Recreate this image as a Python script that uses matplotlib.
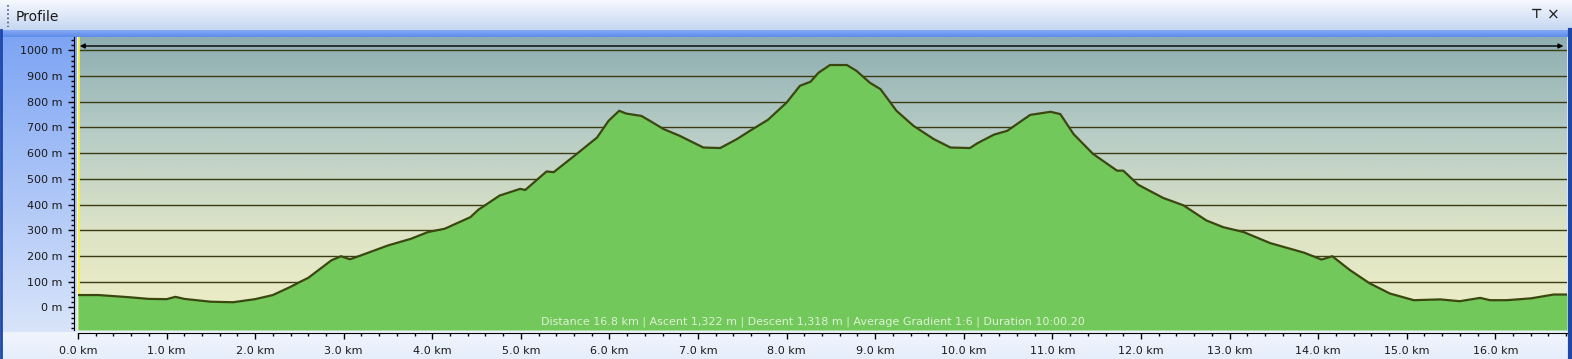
import numpy as np
import matplotlib.pyplot as plt
from matplotlib.colors import LinearSegmentedColormap

# elevation profile (km, m)
dist_km = [0.0, 0.23, 0.56, 0.8, 1.0, 1.1, 1.2, 1.5, 1.75, 2.0, 2.2, 2.4, 2.5,
           2.6, 2.86, 2.97, 3.07, 3.2, 3.5, 3.76, 3.95, 4.14, 4.43, 4.52, 4.76,
           4.99, 5.05, 5.29, 5.37, 5.63, 5.86, 5.99, 6.11, 6.19, 6.36, 6.47,
           6.61, 6.79, 7.06, 7.25, 7.44, 7.59, 7.79, 8.0, 8.15, 8.27, 8.36,
           8.49, 8.68, 8.79, 8.94, 9.06, 9.24, 9.43, 9.66, 9.85, 10.07, 10.15,
           10.34, 10.49, 10.75, 10.98, 11.09, 11.24, 11.46, 11.73, 11.8, 11.97,
           12.25, 12.48, 12.74, 12.93, 13.16, 13.46, 13.84, 14.04, 14.16, 14.36,
           14.58, 14.81, 15.08, 15.38, 15.6, 15.83, 15.94, 16.13, 16.4, 16.66,
           16.81]
elev_m = [48, 48, 40, 33, 32, 41, 33, 22, 20, 32, 48, 80, 98,
          115, 183, 199, 187, 203, 241, 267, 293, 306, 351, 380, 435,
          461, 457, 529, 526, 597, 661, 726, 765, 754, 745, 723,
          694, 668, 622, 620, 655, 688, 730, 797, 862, 878, 913,
          943, 943, 920, 874, 849, 765, 707, 655, 622, 620, 638,
          672, 687, 749, 761, 752, 674, 597, 532, 532, 477,
          426, 397, 338, 312, 293, 250, 213, 186, 199, 145,
          94, 54, 28, 31, 24, 37, 28, 28, 35, 50,
          50]

y_ticks = list(range(0, 1001, 100))
y_labels = [f"{v} m" for v in y_ticks]
x_ticks = list(range(0, 17))
x_labels = [f"{v:.1f} km" for v in x_ticks]
stats = ("Distance 16.8 km | Ascent 1,322 m | Descent 1,318 m | "
         "Average Gradient 1:6 | Duration 10:00.20")

W, H = 1572, 359
fig = plt.figure(figsize=(W / 100, H / 100), dpi=100)

# window chrome, drawn in pixel coordinates
bg = fig.add_axes([0, 0, 1, 1], zorder=-5)
bg.set_xlim(0, W)
bg.set_ylim(H, 0)
bg.axis("off")


def vgrad(ax, x0, x1, y0, y1, c_top, c_bot):
    cm = LinearSegmentedColormap.from_list("g", [c_top, c_bot])
    ax.imshow(np.linspace(0, 1, 64).reshape(-1, 1), cmap=cm, aspect="auto",
              extent=(x0, x1, y1, y0), interpolation="bilinear")


vgrad(bg, 0, W, 0, H, "#eaf1fc", "#eaf1fc")
vgrad(bg, 0, W, 0, 30, "#f6f9fe", "#c6d7f3")
vgrad(bg, 0, W, 30, 37, "#86aaf4", "#5e8cec")
vgrad(bg, 0, 77, 37, 332, "#7ea5f4", "#d8e4fa")
vgrad(bg, 0, W, 332, H, "#f0f5fd", "#e6eefb")
bg.plot([1, 1], [30, H], color="#1d47a8", lw=2)
bg.plot([1569.5, 1569.5], [30, H], color="#1d47a8", lw=3)
bg.plot([8, 8], [5, 27], color="#4a5a80", lw=1.2, ls=(0, (1, 1.5)))
bg.text(16, 17, "Profile", fontsize=10, color="#1a1a1a", va="center",
        ha="left")
bg.text(1537, 15, "\u22a4", fontsize=9, color="#202020", va="center",
        ha="center", fontweight="bold")
bg.text(1553, 15, "\u00d7", fontsize=11, color="#202020", va="center",
        ha="center")
bg.set_xlim(0, W)
bg.set_ylim(H, 0)

# profile axes
x0, x1, yt, yb = 78, 1567, 37, 330
ax = fig.add_axes([x0 / W, (H - yb) / H, (x1 - x0) / W, (yb - yt) / H])
ax.set_xlim(0, 16.81)
ax.set_ylim(-88, 1052)

sky = LinearSegmentedColormap.from_list(
    "sky", ["#8eaeb1", "#b8cdc6", "#dde3c6", "#eff0c4"])
ax.imshow(np.linspace(0, 1, 128).reshape(-1, 1), cmap=sky, aspect="auto",
          extent=(0, 16.81, -88, 1052), interpolation="bilinear", zorder=0)

for v in y_ticks:
    ax.axhline(v, color="#3c3c14", lw=1, zorder=1)
ax.axvline(0, color="#f4f040", lw=2, zorder=1)

ax.fill_between(dist_km, elev_m, -88, color="#72c85a", lw=0, zorder=2)
ax.plot(dist_km, elev_m, color="#3a4810", lw=1.6, zorder=3)

ax.annotate("", xy=(0.02, 1017), xytext=(16.77, 1017),
            arrowprops=dict(arrowstyle="<|-|>", color="black", lw=1,
                            mutation_scale=7, shrinkA=0, shrinkB=0),
            zorder=4)

ax.text(8.3, -57, stats, fontsize=8, color="#dcf2d4", ha="center",
        va="center", zorder=4)

for s in ["top", "right"]:
    ax.spines[s].set_visible(False)
ax.spines["left"].set_position(("outward", 3))
ax.spines["bottom"].set_position(("outward", 2.3))
ax.spines["left"].set_color("black")
ax.spines["bottom"].set_color("black")

ax.set_yticks(y_ticks, y_labels)
ax.set_yticks(np.arange(-80, 1051, 20), minor=True)
ax.set_xticks(x_ticks, x_labels)
ax.set_xticks(np.arange(0, 16.81, 0.2), minor=True)
ax.tick_params(axis="both", which="major", length=4, width=1, labelsize=8,
               color="black", labelcolor="#1a1a1a")
ax.tick_params(axis="both", which="minor", length=2.2, width=1,
               color="black")
ax.tick_params(axis="y", which="major", pad=4)
ax.tick_params(axis="x", which="major", pad=5)

fig.savefig("out.png", dpi=100)
